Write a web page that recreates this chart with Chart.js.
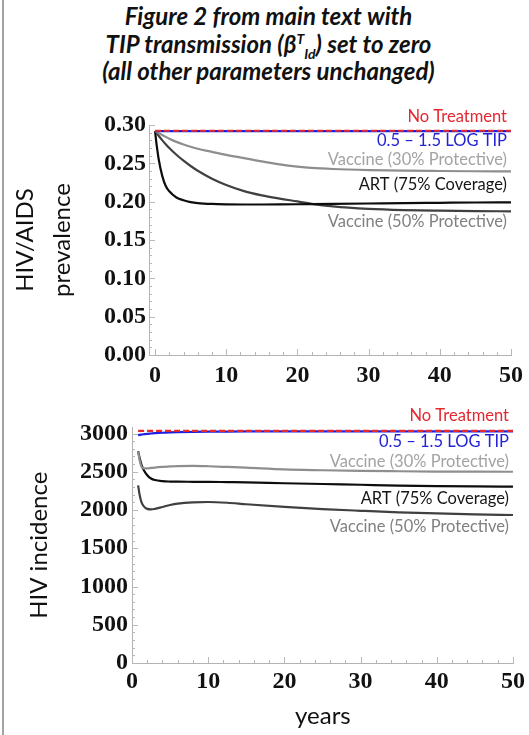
<!DOCTYPE html>
<html>
<head>
<meta charset="utf-8">
<script src="https://cdn.jsdelivr.net/npm/chart.js@4.4.0/dist/chart.umd.min.js"></script>
<style>
  html, body { margin: 0; padding: 0; background: #fff; }
  body { width: 529px; height: 735px; position: relative; overflow: hidden; }
  #edge { position: absolute; left: 2px; top: 0; width: 2px; height: 735px; background: #a3a3a3; }
  #title { position: absolute; left: 4px; top: 2px; width: 529px; text-align: center;
           font-family: Lato, sans-serif; font-weight: bold; font-style: italic;
           font-size: 24px; line-height: 27.5px; color: #111; }
  #title sup, #title sub { font-size: 14px; line-height: 0; }
  .box { position: absolute; left: 0; width: 529px; }
</style>
</head>
<body>
<div id="edge"></div>
<div id="title">Figure 2 from main text with<br>TIP transmission (β<sup>T</sup><sub>Id</sub>) set to zero<br>(all other parameters unchanged)</div>
<div class="box" style="top:0;height:395px"><canvas id="prev"></canvas></div>
<div class="box" style="top:395px;height:340px"><canvas id="inc"></canvas></div>
<script>
// top panel: HIV/AIDS prevalence
const prevYears = [0, 0.25, 0.5, 1, 1.5, 2, 3, 4, 5, 6, 8, 10, 12.5, 15, 17.5, 20, 22, 25, 30, 35, 40, 45, 50];
const prevNoTreatment = [0.2925, 0.2925, 0.2925, 0.2925, 0.2925, 0.2925, 0.2925, 0.2925, 0.2925, 0.2925, 0.2925, 0.2925, 0.2925, 0.2925, 0.2925, 0.2925, 0.2925, 0.2925, 0.2925, 0.2925, 0.2925, 0.2925, 0.2925];
const prevTip = [0.292, 0.292, 0.292, 0.292, 0.292, 0.292, 0.292, 0.292, 0.292, 0.292, 0.292, 0.292, 0.292, 0.292, 0.292, 0.292, 0.292, 0.292, 0.292, 0.292, 0.292, 0.292, 0.292];
const prevVac30 = [0.292, 0.2907, 0.2894, 0.2869, 0.2845, 0.2822, 0.2780, 0.2745, 0.2716, 0.2690, 0.2650, 0.2610, 0.2568, 0.2525, 0.2487, 0.2458, 0.2441, 0.2426, 0.2412, 0.2404, 0.2400, 0.2397, 0.2395];
const prevArt = [0.292, 0.272, 0.256, 0.234, 0.2205, 0.2135, 0.2055, 0.2018, 0.1995, 0.1982, 0.1970, 0.1965, 0.1963, 0.1963, 0.1964, 0.1966, 0.1968, 0.1971, 0.1976, 0.1981, 0.1985, 0.1989, 0.1992];
const prevVac50 = [0.292, 0.2890, 0.2860, 0.2803, 0.2750, 0.2700, 0.2612, 0.2535, 0.2465, 0.2403, 0.2300, 0.2218, 0.2138, 0.2082, 0.2040, 0.2003, 0.1972, 0.1938, 0.1906, 0.1890, 0.1882, 0.1877, 0.1874];
const prevTicks = [0, 0.05, 0.10, 0.15, 0.20, 0.25, 0.30];

// bottom panel: HIV incidence
const incYears = [0.8, 1, 1.25, 1.5, 2, 2.5, 3, 4, 5, 6, 8, 10, 12.5, 15, 20, 25, 30, 35, 40, 45, 50];
const incNoTreatment = [3035, 3035, 3035, 3035, 3035, 3035, 3035, 3035, 3035, 3035, 3035, 3035, 3035, 3035, 3035, 3035, 3035, 3035, 3035, 3035, 3035];
const incTip = [2978, 2982, 2986, 2990, 2996, 3000, 3004, 3010, 3014, 3017, 3021, 3024, 3026, 3027, 3028, 3028, 3028, 3028, 3028, 3028, 3028];
const incVac30 = [2767, 2650, 2565, 2545, 2545, 2550, 2555, 2563, 2570, 2574, 2576, 2572, 2563, 2553, 2530, 2520, 2512, 2507, 2503, 2501, 2500];
const incArt = [2767, 2680, 2590, 2530, 2455, 2412, 2392, 2377, 2372, 2370, 2369, 2368, 2365, 2362, 2350, 2340, 2330, 2320, 2313, 2308, 2305];
const incVac50 = [2323, 2200, 2100, 2055, 2015, 2008, 2015, 2040, 2065, 2083, 2100, 2105, 2095, 2075, 2040, 2012, 1990, 1970, 1955, 1943, 1935];
const incTicks = [0, 500, 1000, 1500, 2000, 2500, 3000];

const yearTicks = [0, 10, 20, 30, 40, 50];

const seriesNames = ['No Treatment', '0.5 \u2013 1.5 LOG TIP', 'Vaccine (30% Protective)', 'ART (75% Coverage)', 'Vaccine (50% Protective)'];
const lineColors = ['#e62a2a', '#1f1fe0', '#8e8e8e', '#0d0d0d', '#404040'];
const textColors = ['#e3282f', '#2323d6', '#a3a3a3', '#161616', '#808080'];

function pts(xs, ys) { return xs.map((x, i) => ({ x: x, y: ys[i] })); }

function makeSets(xs, rows) {
  return rows.map((r, i) => ({
    label: seriesNames[i],
    data: pts(xs, r),
    borderColor: lineColors[i],
    borderWidth: 2.2,
    borderDash: i === 0 ? [6, 3] : [],
    pointRadius: 0,
    cubicInterpolationMode: 'monotone',
    fill: false
  }));
}

// small inward ticks, Mathematica style
const innerTicks = {
  id: 'innerTicks',
  beforeDatasetsDraw(chart, args, o) {
    const { ctx, chartArea: a, scales: { x, y } } = chart;
    ctx.save();
    ctx.strokeStyle = '#b8b8b8';
    ctx.lineWidth = 1;
    ctx.beginPath();
    for (let i = 0; i * o.xMinor <= x.max + 1e-9; i++) {
      const v = i * o.xMinor;
      if (v < x.min) continue;
      const px = Math.round(x.getPixelForValue(v)) + 0.5;
      const len = (i % o.xEvery === 0) ? 6 : 3;
      ctx.moveTo(px, a.bottom);
      ctx.lineTo(px, a.bottom - len);
    }
    for (let i = 0; i * o.yMinor <= y.max + 1e-9; i++) {
      const v = i * o.yMinor;
      const py = Math.round(y.getPixelForValue(v)) + 0.5;
      const len = (i % o.yEvery === 0) ? 6 : 3;
      ctx.moveTo(a.left, py);
      ctx.lineTo(a.left + len, py);
    }
    ctx.stroke();
    ctx.restore();
  }
};

// right-aligned series labels
const seriesLabels = {
  id: 'seriesLabels',
  afterDatasetsDraw(chart, args, o) {
    const { ctx, scales: { x, y } } = chart;
    ctx.save();
    ctx.font = '16.5px Lato, sans-serif';
    ctx.textAlign = 'right';
    ctx.textBaseline = 'middle';
    const right = x.getPixelForValue(50) - 4;
    o.at.forEach((v, i) => {
      ctx.fillStyle = textColors[i];
      ctx.fillText(seriesNames[i], right, y.getPixelForValue(v));
    });
    ctx.restore();
  }
};

const tickFont = { family: '"Liberation Serif", "Times New Roman", serif', weight: 'bold', size: 24 };
const axisGray = '#b3b3b3';

new Chart(document.getElementById('prev'), {
  type: 'line',
  data: { datasets: makeSets(prevYears, [prevNoTreatment, prevTip, prevVac30, prevArt, prevVac50]) },
  options: {
    animation: false,
    responsive: true,
    maintainAspectRatio: false,
    layout: { padding: { top: 125, right: 13, bottom: 0, left: 0 } },
    plugins: {
      legend: { display: false },
      tooltip: { enabled: false },
      innerTicks: { xMinor: 2, xEvery: 5, yMinor: 0.01, yEvery: 5 },
      seriesLabels: { at: [0.3104, 0.2795, 0.2547, 0.2221, 0.1735] }
    },
    scales: {
      x: {
        type: 'linear', min: -0.85, max: 50.1,
        afterBuildTicks: s => { s.ticks = yearTicks.map(v => ({ value: v })); },
        afterFit: s => { s.height = 40; },
        grid: { drawOnChartArea: false, drawTicks: false },
        border: { color: axisGray, width: 1 },
        ticks: { font: tickFont, color: '#111', padding: 6, maxRotation: 0, callback: v => String(v) }
      },
      y: {
        min: 0, max: 0.30,
        afterBuildTicks: s => { s.ticks = prevTicks.map(v => ({ value: v })); },
        afterFit: s => { s.width = 149; },
        grid: { drawOnChartArea: false, drawTicks: false },
        border: { color: axisGray, width: 1 },
        ticks: { font: tickFont, color: '#111', padding: 3, callback: v => v.toFixed(2) },
        title: { display: true, text: ['HIV/AIDS', 'prevalence'], color: '#111',
                 font: { family: 'Lato, sans-serif', size: 24, lineHeight: 1.54 }, padding: { top: 6.5 } }
      }
    }
  },
  plugins: [innerTicks, seriesLabels]
});

new Chart(document.getElementById('inc'), {
  type: 'line',
  data: { datasets: makeSets(incYears, [incNoTreatment, incTip, incVac30, incArt, incVac50]) },
  options: {
    animation: false,
    responsive: true,
    maintainAspectRatio: false,
    layout: { padding: { top: 32.4, right: 15, bottom: 0, left: 0 } },
    plugins: {
      legend: { display: false },
      tooltip: { enabled: false },
      innerTicks: { xMinor: 2, xEvery: 5, yMinor: 100, yEvery: 5 },
      seriesLabels: { at: [3229, 2893, 2631, 2153, 1784] }
    },
    scales: {
      x: {
        type: 'linear', min: 0, max: 50.1,
        afterBuildTicks: s => { s.ticks = yearTicks.map(v => ({ value: v })); },
        afterFit: s => { s.height = 72; },
        grid: { drawOnChartArea: false, drawTicks: false },
        border: { color: axisGray, width: 1 },
        ticks: { font: tickFont, color: '#111', padding: 4, maxRotation: 0, callback: v => String(v) },
        title: { display: true, text: 'years', color: '#111',
                 font: { family: 'Lato, sans-serif', size: 24 }, padding: { bottom: 4 } }
      },
      y: {
        min: 0, max: 3080,
        afterBuildTicks: s => { s.ticks = incTicks.map(v => ({ value: v })); },
        afterFit: s => { s.width = 132; },
        grid: { drawOnChartArea: false, drawTicks: false },
        border: { color: axisGray, width: 1 },
        ticks: { font: tickFont, color: '#111', padding: 4, callback: v => String(v) },
        title: { display: true, text: 'HIV incidence', color: '#111',
                 font: { family: 'Lato, sans-serif', size: 24 }, padding: { top: 24.6 } }
      }
    }
  },
  plugins: [innerTicks, seriesLabels]
});
</script>
</body>
</html>
